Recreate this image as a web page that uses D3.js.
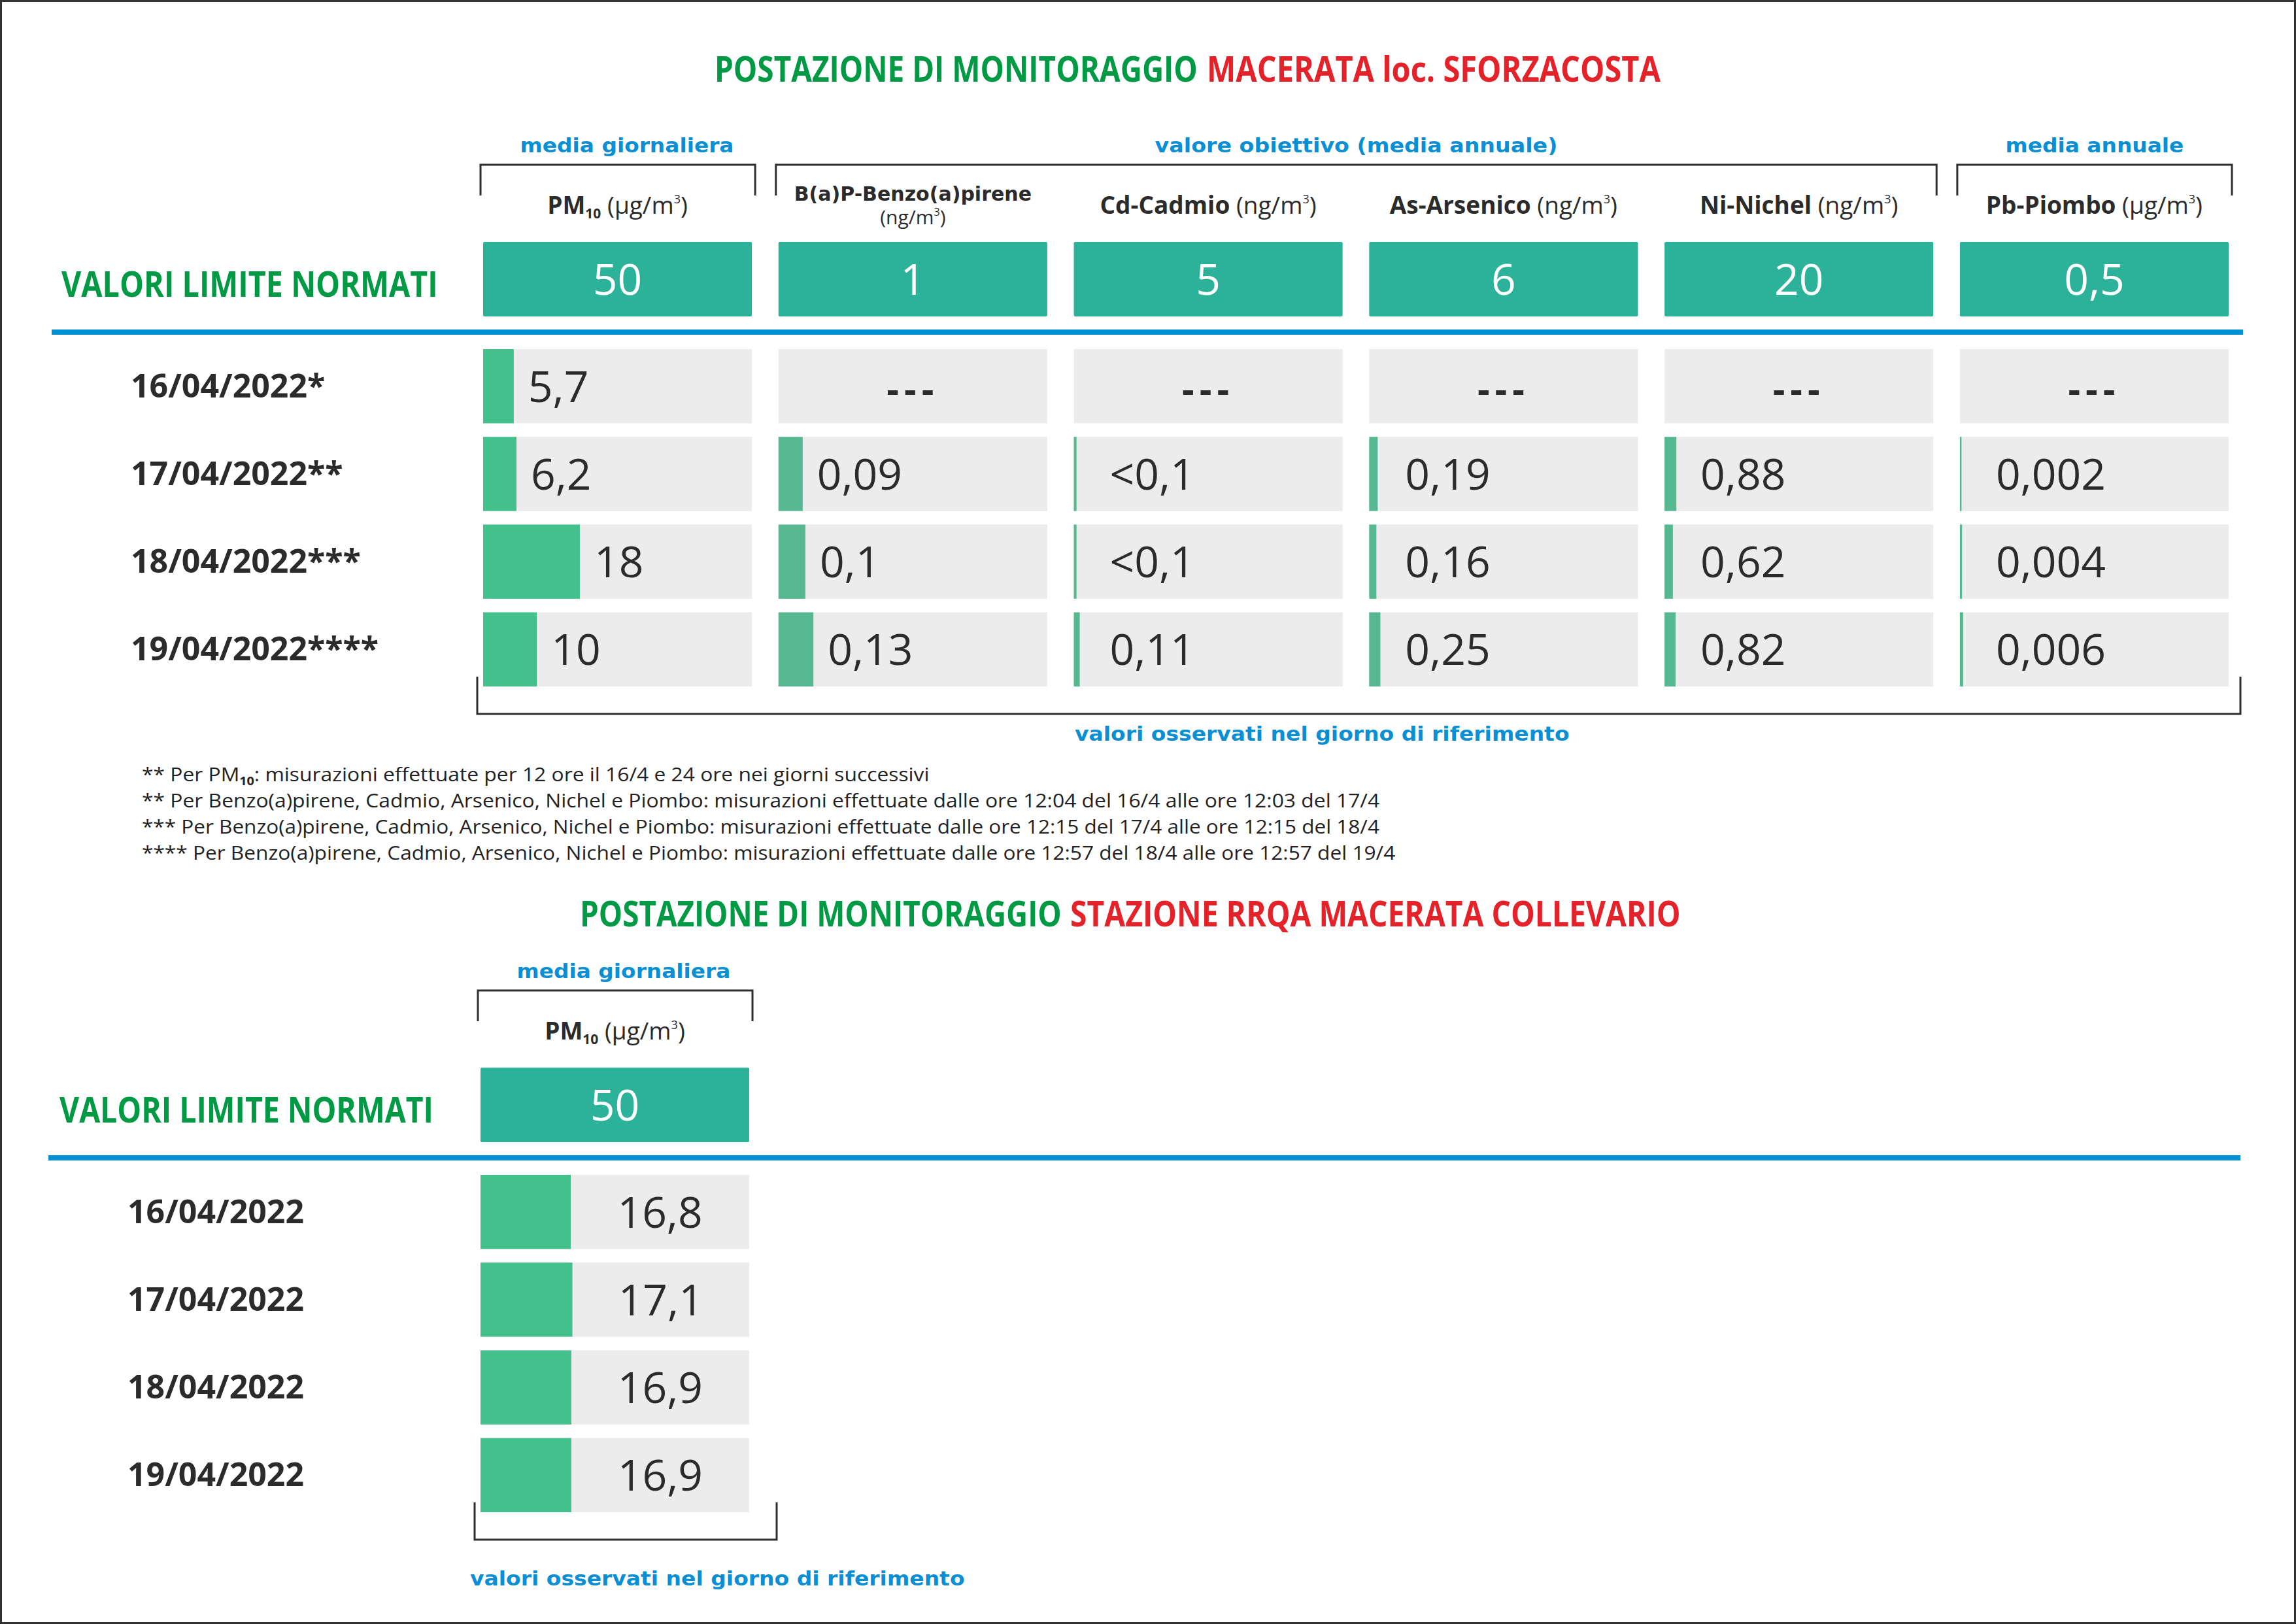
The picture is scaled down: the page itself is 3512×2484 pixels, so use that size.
<!DOCTYPE html>
<html>
<head>
<meta charset="utf-8">
<script src="https://cdn.jsdelivr.net/npm/d3@7"></script>
<style>
  body { margin: 0; background: #fff; }
  svg { display: block; }
</style>
</head>
<body>
<div id="chart"></div>
<script>
// ---- data ----
const pollutants = ["PM10", "BaP", "Cd", "As", "Ni", "Pb"];
const pollutantNames = ["PM", "B(a)P-Benzo(a)pirene", "Cd-Cadmio", "As-Arsenico", "Ni-Nichel", "Pb-Piombo"];
const pollutantUnits = ["µg/m", "ng/m", "ng/m", "ng/m", "ng/m", "µg/m"];
const limitValues = [50, 1, 5, 6, 20, 0.5];

const groupLabels = ["media giornaliera", "valore obiettivo (media annuale)", "media annuale"];
const groupFirst = ["PM10", "BaP", "Pb"];
const groupLast = ["PM10", "Ni", "Pb"];

const dates1 = ["16/04/2022*", "17/04/2022**", "18/04/2022***", "19/04/2022****"];
const pm10Sforzacosta = [5.7, 6.2, 18, 10];
const bapValues = [null, 0.09, 0.1, 0.13];
const cdValues = [null, "<0,1", "<0,1", 0.11];
const asValues = [null, 0.19, 0.16, 0.25];
const niValues = [null, 0.88, 0.62, 0.82];
const pbValues = [null, 0.002, 0.004, 0.006];

const dates2 = ["16/04/2022", "17/04/2022", "18/04/2022", "19/04/2022"];
const pm10Collevario = [16.8, 17.1, 16.9, 16.9];

const footnotes = [
  ["** Per PM", "10", ": misurazioni effettuate per 12 ore il 16/4 e 24 ore nei giorni successivi"],
  ["** Per Benzo(a)pirene, Cadmio, Arsenico, Nichel e Piombo: misurazioni effettuate dalle ore 12:04 del 16/4 alle ore 12:03 del 17/4"],
  ["*** Per Benzo(a)pirene, Cadmio, Arsenico, Nichel e Piombo: misurazioni effettuate dalle ore 12:15 del 17/4 alle ore 12:15 del 18/4"],
  ["**** Per Benzo(a)pirene, Cadmio, Arsenico, Nichel e Piombo: misurazioni effettuate dalle ore 12:57 del 18/4 alle ore 12:57 del 19/4"]
];

// ---- look ----
const W = 3512, H = 2484;
const GREEN = "#009a45", RED = "#e3222a", BLUE = "#0a8fd4", DARK = "#2b2b2b";
const TEAL = "#2cb298", CELL = "#ebeceb";
const SANS = "'Open Sans', sans-serif";
const WIDE = "'DejaVu Sans', sans-serif";

const svg = d3.select("#chart").append("svg")
  .attr("width", W).attr("height", H);

svg.append("rect")
  .attr("x", 1.5).attr("y", 1.5)
  .attr("width", W - 3).attr("height", H - 3)
  .attr("fill", "#fff").attr("stroke", "#333").attr("stroke-width", 3);

// squeeze/stretch a text horizontally to a given width, around its anchor x
function fit(sel, w) {
  sel.each(function () {
    const n = this.getComputedTextLength();
    const s = w / n;
    const x = +this.getAttribute("x");
    d3.select(this).attr("transform", `translate(${x},0) scale(${s},1) translate(${-x},0)`);
  });
}

function fmt(v) {
  return typeof v === "string" ? v : String(v).replace(".", ",");
}
// "<0,1" style values: bar drawn at half the detection limit
function barValue(v) {
  if (typeof v === "string") return +v.replace("<", "").replace(",", ".") / 2;
  return v;
}

function bracket(g, x0, x1, yTop, yBot, open) {
  const p = open === "down"
    ? `M${x0},${yBot}V${yTop}H${x1}V${yBot}`
    : `M${x0},${yTop}V${yBot}H${x1}V${yTop}`;
  g.append("path").attr("d", p)
    .attr("fill", "none").attr("stroke", "#2e2e2e").attr("stroke-width", 3);
}

function drawSection(cfg) {
  const g = svg.append("g");
  const top = cfg.top; // top of the limit boxes
  const cols = cfg.cols;

  const x = d3.scaleBand().domain(cols).range(cfg.xRange)
    .paddingInner(cols.length > 1 ? 0.09 : 0);
  const y = d3.scaleBand().domain(d3.range(cfg.dates.length))
    .range([top + 164, top + 680]).paddingInner(0.155);

  // title, green part then red part
  g.append("text")
    .attr("x", cfg.titleX[0]).attr("y", top + cfg.titleDy)
    .attr("font-family", SANS).attr("font-weight", 700).attr("font-size", 54)
    .attr("fill", GREEN).text("POSTAZIONE DI MONITORAGGIO")
    .call(fit, cfg.titleW[0]);
  g.append("text")
    .attr("x", cfg.titleX[1]).attr("y", top + cfg.titleDy)
    .attr("font-family", SANS).attr("font-weight", 700).attr("font-size", 54)
    .attr("fill", RED).text(cfg.titleRed)
    .call(fit, cfg.titleW[1]);

  // group labels + brackets
  cfg.groups.forEach((lab, i) => {
    const a = x(cfg.groupFirst[i]) - 4;
    const b = x(cfg.groupLast[i]) + x.bandwidth() + 5;
    bracket(g, a, b, top - 118, top - 71, "down");
    g.append("text")
      .attr("x", (a + b) / 2 + cfg.groupNudge[i]).attr("y", top - 137)
      .attr("text-anchor", "middle")
      .attr("font-family", WIDE).attr("font-weight", 700).attr("font-size", 30)
      .attr("fill", BLUE).text(lab)
      .call(fit, cfg.groupW[i]);
  });

  // column headers
  cols.forEach(c => {
    const i = pollutants.indexOf(c);
    const cx = x(c) + x.bandwidth() / 2;
    if (c === "BaP") {
      g.append("text").attr("x", cx).attr("y", top - 63)
        .attr("text-anchor", "middle").attr("font-family", WIDE)
        .attr("font-weight", 700).attr("font-size", 30).attr("fill", DARK)
        .text(pollutantNames[i]);
      const u = g.append("text").attr("x", cx).attr("y", top - 27)
        .attr("text-anchor", "middle").attr("font-family", SANS)
        .attr("font-size", 30).attr("fill", DARK);
      u.append("tspan").text("(" + pollutantUnits[i]);
      u.append("tspan").attr("font-size", 16).attr("dy", -13).text("3");
      u.append("tspan").attr("dy", 13).text(")");
      return;
    }
    const h = g.append("text").attr("x", cx).attr("y", top - 43)
      .attr("text-anchor", "middle").attr("font-family", SANS)
      .attr("font-size", 37).attr("fill", DARK);
    h.append("tspan").attr("font-weight", 700).text(pollutantNames[i]);
    if (c === "PM10") {
      h.append("tspan").attr("font-weight", 700).attr("font-size", 21).attr("dy", 7).text("10");
      h.append("tspan").attr("dy", -7).text(" (" + pollutantUnits[i]);
    } else {
      h.append("tspan").text(" (" + pollutantUnits[i]);
    }
    h.append("tspan").attr("font-size", 18).attr("dy", -16).text("3");
    h.append("tspan").attr("dy", 16).text(")");
  });

  // limit boxes
  const lim = g.selectAll(".lim").data(cols).join("g").attr("class", "lim");
  lim.append("rect")
    .attr("x", d => x(d)).attr("y", top)
    .attr("width", x.bandwidth()).attr("height", 114)
    .attr("rx", 2).attr("fill", TEAL);
  lim.append("text")
    .attr("x", d => x(d) + x.bandwidth() / 2).attr("y", top + 57 + 24)
    .attr("text-anchor", "middle").attr("font-family", SANS)
    .attr("font-size", 66).attr("fill", "#fff")
    .text(d => fmt(limitValues[pollutants.indexOf(d)]));

  g.append("text").attr("x", cfg.leftX).attr("y", top + 84)
    .attr("font-family", SANS).attr("font-weight", 700).attr("font-size", 54)
    .attr("fill", GREEN).text("VALORI LIMITE NORMATI")
    .call(fit, cfg.valoriW);

  // blue rule
  g.append("rect").attr("x", cfg.ruleX[0]).attr("y", top + 134)
    .attr("width", cfg.ruleX[1] - cfg.ruleX[0]).attr("height", 8)
    .attr("fill", "#0090d4");

  // date labels
  g.selectAll(".date").data(cfg.dates).join("text")
    .attr("x", cfg.dateX).attr("y", (d, i) => y(i) + y.bandwidth() / 2 + 17)
    .attr("font-family", SANS).attr("font-weight", 700).attr("font-size", 50)
    .attr("fill", DARK).text(d => d);

  // cells
  cols.forEach(c => {
    const i = pollutants.indexOf(c);
    const rows = cfg.values[c].map((v, k) => ({ v: v, k: k }));
    const bx = d3.scaleLinear().domain([0, limitValues[i]]).range([0, x.bandwidth()]);
    const cell = g.selectAll(".cell-" + c).data(rows).join("g").attr("class", "cell-" + c);
    cell.append("rect")
      .attr("x", x(c)).attr("y", d => y(d.k))
      .attr("width", x.bandwidth()).attr("height", y.bandwidth())
      .attr("fill", CELL);
    cell.filter(d => d.v !== null).append("rect")
      .attr("x", x(c)).attr("y", d => y(d.k))
      .attr("width", d => Math.max(2.5, bx(barValue(d.v))))
      .attr("height", y.bandwidth())
      .attr("fill", c === "PM10" ? "#44c08c" : "#55b890");
    cell.append("text")
      .attr("x", d => {
        if (d.v === null) return x(c) + x.bandwidth() / 2;
        const end = x(c) + bx(barValue(d.v));
        if (cfg.labelMode === "center") return (end + x(c) + x.bandwidth()) / 2;
        return Math.max(end + 22, x(c) + 55);
      })
      .attr("y", d => y(d.k) + y.bandwidth() / 2 + (d.v === null ? 25 : 24))
      .attr("text-anchor", d => (d.v === null || cfg.labelMode === "center") ? "middle" : "start")
      .attr("font-family", SANS)
      .attr("font-weight", d => d.v === null ? 700 : 400)
      .attr("font-size", d => d.v === null ? 58 : 66)
      .attr("letter-spacing", d => d.v === null ? 8 : 0)
      .attr("fill", DARK)
      .text(d => d.v === null ? "---" : fmt(d.v));
  });

  // bottom bracket + caption
  bracket(g, cfg.botX[0], cfg.botX[1], top + 665, top + 722, "up");
  g.append("text").attr("x", cfg.captionX).attr("y", top + cfg.captionDy)
    .attr("font-family", WIDE).attr("font-weight", 700).attr("font-size", 30)
    .attr("fill", BLUE).text("valori osservati nel giorno di riferimento")
    .call(fit, 757);
}

drawSection({
  top: 370,
  cols: pollutants,
  xRange: [739, 3409],
  titleX: [1093, 1846], titleDy: -245, titleW: [739, 694],
  titleRed: "MACERATA loc. SFORZACOSTA",
  groups: groupLabels, groupFirst: groupFirst, groupLast: groupLast,
  groupNudge: [14, 0, 0], groupW: [327, 616, 273],
  leftX: 94, valoriW: 576, ruleX: [79, 3431], dateX: 200,
  dates: dates1,
  values: { PM10: pm10Sforzacosta, BaP: bapValues, Cd: cdValues, As: asValues, Ni: niValues, Pb: pbValues },
  labelMode: "after",
  botX: [730, 3427], captionX: 1644, captionDy: 763
});

// footnotes
const fnW = [1205, 1894, 1894, 1918];
footnotes.forEach((parts, i) => {
  const t = svg.append("text").attr("x", 217).attr("y", 1195 + i * 40)
    .attr("font-family", SANS).attr("font-size", 29).attr("fill", "#222");
  if (parts.length === 3) {
    t.append("tspan").text(parts[0]);
    t.append("tspan").attr("font-size", 18).attr("font-weight", 700).attr("dy", 6).text(parts[1]);
    t.append("tspan").attr("dy", -6).text(parts[2]);
  } else {
    t.text(parts[0]);
  }
  fit(t, fnW[i]);
});

drawSection({
  top: 1633,
  cols: ["PM10"],
  xRange: [735, 1146],
  titleX: [887, 1637], titleDy: -216, titleW: [737, 934],
  titleRed: "STAZIONE RRQA MACERATA COLLEVARIO",
  groups: ["media giornaliera"], groupFirst: ["PM10"], groupLast: ["PM10"],
  groupNudge: [13], groupW: [327],
  leftX: 91, valoriW: 572, ruleX: [74, 3427], dateX: 195,
  dates: dates2,
  values: { PM10: pm10Collevario },
  labelMode: "center",
  botX: [726, 1188], captionX: 719, captionDy: 792
});
</script>
</body>
</html>
